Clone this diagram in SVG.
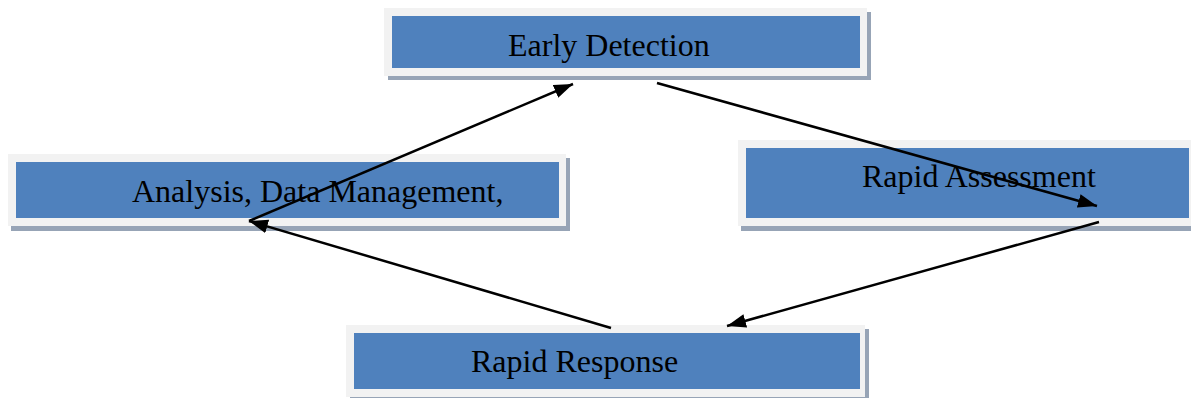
<svg xmlns="http://www.w3.org/2000/svg" width="1191" height="398" viewBox="0 0 1191 398">
<style>
.shadow{fill:#97a4b6}
.frame{fill:#f2f2f2}
.box{fill:#4f81bd}
.lbl{font-family:"Liberation Serif","Times New Roman",serif;font-size:32px;fill:#000}
.conn{stroke:#000;stroke-width:2.5;fill:none}
</style>
<defs>
<marker id="arr" markerUnits="userSpaceOnUse" markerWidth="20" markerHeight="14" refX="19" refY="7" orient="auto">
<path d="M0,0 L19,7 L0,14 z" fill="#000"/>
</marker>
</defs>
<rect width="1191" height="398" fill="#fff"/>
<g id="early-detection">
<rect class="shadow" x="388" y="12" width="483" height="68"/>
<rect class="frame" x="384" y="8" width="483" height="68"/>
<rect class="box" x="392" y="16" width="468" height="52"/>
<text class="lbl" x="508" y="56">Early Detection</text>
</g>
<g id="analysis">
<rect class="shadow" x="11" y="158" width="559" height="73"/>
<rect class="frame" x="8" y="154" width="558" height="72"/>
<rect class="box" x="16" y="162" width="543" height="56"/>
<text class="lbl" x="132" y="202">Analysis, Data Management,</text>
</g>
<g id="rapid-assessment">
<rect class="shadow" x="741" y="144" width="460" height="87"/>
<rect class="frame" x="738" y="140" width="460" height="86"/>
<rect class="box" x="746" y="148" width="443" height="70"/>
<text class="lbl" x="862" y="187">Rapid Assessment</text>
</g>
<g id="rapid-response">
<rect class="shadow" x="350" y="329" width="519" height="72"/>
<rect class="frame" x="346" y="325" width="519" height="72"/>
<rect class="box" x="354" y="333" width="506" height="56"/>
<text class="lbl" x="471" y="372">Rapid Response</text>
</g>
<g id="connectors">
<line class="conn" x1="657" y1="83" x2="1097" y2="206" marker-end="url(#arr)"/>
<line class="conn" x1="1099" y1="222" x2="727" y2="326" marker-end="url(#arr)"/>
<line class="conn" x1="611" y1="328" x2="249" y2="221" marker-end="url(#arr)"/>
<line class="conn" x1="249" y1="221" x2="573" y2="84" marker-end="url(#arr)"/>
</g>
</svg>
